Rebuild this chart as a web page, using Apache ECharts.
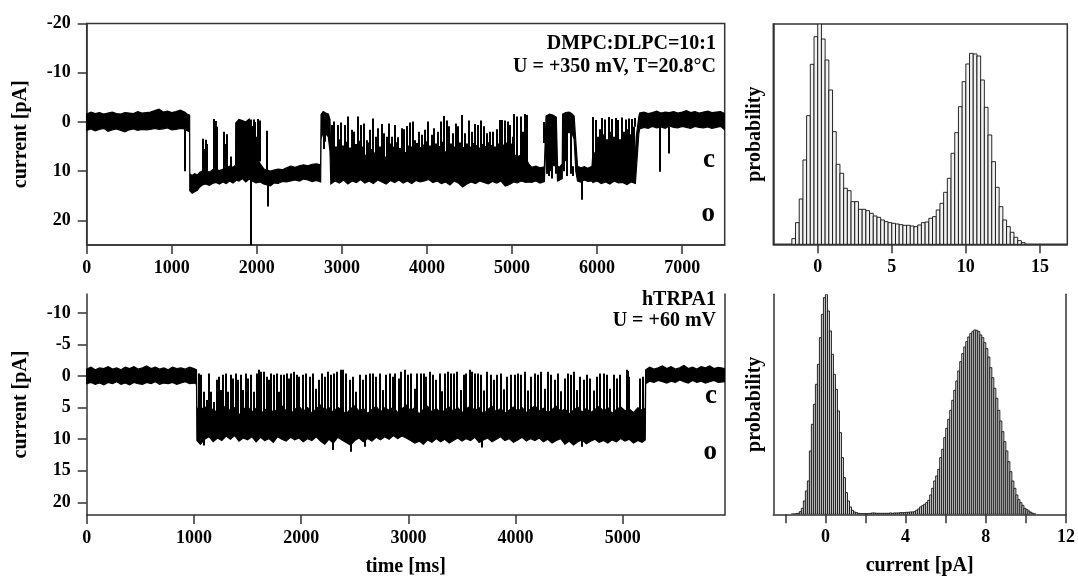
<!DOCTYPE html>
<html><head><meta charset="utf-8">
<script src="https://cdn.jsdelivr.net/npm/echarts@6/dist/echarts.min.js"></script>
<style>html,body{margin:0;padding:0;background:#fff}#c{width:1078px;height:578px}</style>
</head><body><div id="c"></div>
<script>
// ---------- tick labels ----------
const topTimeTicks = [0,1000,2000,3000,4000,5000,6000,7000];
const botTimeTicks = [0,1000,2000,3000,4000,5000];
const topCurrTicks = [-20,-10,0,10,20];
const botCurrTicks = [-10,-5,0,5,10,15,20];
const topHistTicks = [0,5,10,15];
const botHistTickMarks = [-2,0,2,4,6,8,10,12];
const botHistLabels = [0,4,8,12];

// ---------- top trace (DMPC:DLPC) : noise band envelope [ms, pA] ----------
const topBandT  = [0,50,100,150,200,250,300,350,400,450,500,550,600,650,700,750,800,850,900,950,1000,1050,1100,1150,1180,1210,
  1212,1240,1270,1300,1330,1360,1400,1440,1480,1520,1560,1600,1640,1680,1720,1750,
  1752,1790,1830,1870,1910,1940,
  1945,1990,2040,2080,2120,2160,2200,2250,2300,2350,2400,2450,2500,2550,2600,2650,2700,2750,
  2755,2780,2810,2840,2860,
  2870,2920,2970,3020,3070,3120,3170,3220,3270,3320,3370,3420,3470,3520,3570,3620,3670,3720,3770,3820,3870,3920,3970,4020,4070,4120,4170,4220,4270,4320,4370,4420,4470,4520,4570,4620,4670,4720,4770,4820,4870,4920,4970,5020,5060,5110,5160,5195,5230,5280,5330,5380,
  5400,5440,5480,5520,5535,5560,5590,
  5595,5630,5670,5700,5730,5750,
  5770,5810,5850,5890,5940,
  5950,6000,6050,6100,6150,6200,6250,6300,6350,6400,6450,6460,6490,
  6500,6550,6600,6650,6700,6750,6800,6850,6900,6950,7000,7050,7100,7150,7200,7250,7300,7350,7400,7450,7500];
const topBandLo = [-1.6,-2.0,-1.7,-1.9,-1.6,-1.8,-2.0,-1.7,-1.6,-1.9,-1.8,-1.7,-2.1,-1.8,-1.9,-2.0,-2.3,-2.6,-2.0,-2.2,-1.9,-2.1,-2.4,-2.0,-1.6,-1.4,
  10.6,10.9,10.5,10.8,10.2,10.0,9.8,10.2,9.7,9.5,9.9,9.6,9.4,9.0,9.2,8.8,
  0.2,-0.5,-0.3,0.0,-0.6,1.0,
  6.5,7.0,8.5,9.5,9.8,10.0,9.8,9.6,9.7,9.3,9.0,9.2,8.9,8.7,8.9,8.6,8.5,8.7,
  -1.5,-2.1,-1.8,-1.6,-0.5,
  7.0,6.5,7.3,6.3,6.9,7.5,6.4,7.1,6.7,7.6,6.1,7.0,6.5,7.3,6.3,6.8,7.4,6.5,6.0,7.1,6.6,6.3,7.0,7.5,6.7,6.4,7.2,6.1,6.9,6.5,7.3,6.4,7.0,6.7,6.2,7.1,6.6,7.4,6.8,6.3,7.0,6.4,6.9,6.5,7.1,6.7,7.3,8.5,9.2,9.0,9.3,9.1,
  -1.2,-1.6,-1.4,-1.0,9.0,9.2,8.5,
  -1.6,-1.9,-2.0,-1.7,-1.2,4.0,
  9.0,9.3,9.1,9.4,9.0,
  6.5,6.0,7.0,6.3,6.7,5.9,6.5,6.1,6.9,6.0,6.5,3.0,-1.0,
  -1.8,-2.0,-1.7,-1.9,-2.2,-1.8,-2.0,-1.9,-2.1,-1.8,-2.0,-2.3,-1.9,-2.1,-1.8,-2.0,-2.2,-1.9,-2.0,-2.1,-1.7];
const topBandHi = [1.7,1.4,1.8,1.5,1.3,1.9,1.6,1.4,1.7,2.0,1.6,1.4,1.7,1.5,1.6,1.5,1.3,1.5,1.4,1.2,1.6,1.5,1.3,1.4,1.8,2.0,
  14.0,14.5,14.2,13.9,13.2,12.8,12.6,12.9,12.5,12.3,12.6,12.2,12.5,12.0,12.4,12.0,
  11.8,12.0,11.5,12.2,11.6,12.0,
  12.0,12.4,12.2,12.6,12.8,13.0,12.4,12.5,12.1,12.2,12.0,11.8,12.0,11.6,11.8,12.1,11.9,12.2,
  3.5,2.0,2.4,3.0,6.0,
  12.6,12.0,12.4,11.8,12.6,12.0,12.3,11.7,12.4,12.0,12.5,11.8,12.2,12.6,11.9,12.3,11.8,12.4,12.0,12.5,11.9,12.2,12.0,11.7,12.3,12.0,12.5,12.2,12.8,12.0,12.4,13.2,12.6,12.2,12.5,12.0,12.3,12.6,12.1,12.4,12.0,13.0,12.7,12.2,12.4,12.0,12.3,12.2,12.3,12.0,12.4,12.1,
  3.5,2.5,3.0,4.0,12.0,11.8,11.5,
  2.5,1.8,2.2,2.0,3.5,10.0,
  12.0,12.2,11.8,12.1,12.0,
  12.3,12.0,12.5,12.2,12.6,12.0,12.4,12.3,12.7,12.2,12.5,10.0,2.5,
  1.4,1.1,1.3,0.9,1.2,1.0,1.3,0.8,1.1,1.2,0.9,1.1,1.3,0.9,1.1,1.2,1.0,1.3,1.1,0.9,1.6];

// ---------- top trace : fast transitions (spikes) ----------
const topSpikeT = [1152,1160,1370,1385,1400,1420,1495,1502,1510,1520,1528,1610,1625,1645,1655,1700,1928,
  1955,1968,1982,1995,2008,2020,2032,2040,2115,2127,2790,2805,
  2878,2893,2909,2930,2949,2968,2988,3010,3035,3055,3074,3095,3113,3145,3165,3184,3205,3223,3245,3262,3290,3310,3329,3348,3368,3395,3412,3427,3445,3466,3482,3497,3525,3538,3552,3568,3584,3605,3623,3643,3662,3682,3701,3717,3733,3760,3780,3799,3815,3831,3858,3880,3905,3920,3936,3956,3976,3995,4015,4035,4054,4070,4085,4105,4125,4145,4164,4185,4203,4230,4245,4258,4285,4309,4322,4336,4352,4368,4388,4407,4427,4446,4470,4493,4510,4524,4545,4564,4584,4603,4618,4634,4654,4673,4687,4701,4720,4740,4760,4779,4798,4818,4836,4854,4870,4885,4900,4916,4932,4948,4964,4979,4996,5014,
  5024,5063,5102,5130,5153,5180,5376,
  5410,5425,5440,5460,5475,5495,5512,
  5612,5640,5651,5690,5712,5819,
  5957,5984,6010,6030,6055,6075,6094,6120,6141,6160,6180,6200,6219,6235,6251,6275,6298,6318,6337,6355,6376,6395,6415,6430,6447,
  6741,6846,7035];
const topSpikeFrom = [1.5,1.0,10,10,10,10,10,10,10,10,10,10,10,10,10,10,-0.5,
  8,8,8,8,8,8,8,8,10,11,2,2,
  9,9,9,9,9,9,9,9,9,9,9,9,9,9,9,9,9,9,9,9,9,9,9,9,9,9,9,9,9,9,9,9,9,9,9,9,9,9,9,9,9,9,9,9,9,9,9,9,9,9,9,9,9,9,9,9,9,9,9,9,9,9,9,9,9,9,9,9,9,9,9,9,9,9,9,9,9,9,9,9,9,9,9,9,9,9,9,9,9,9,9,9,9,9,9,9,9,9,9,9,9,9,9,9,9,9,9,9,9,9,9,9,9,
  10,10,10,10,10,10,10,
  0,0,0,0,0,0,0,
  0,0,0,0,0,11,
  10,10,10,10,10,10,10,10,10,10,10,10,10,10,10,10,10,10,10,10,10,10,10,10,10,
  1,1,1];
const topSpikeTo = [10.0,7.0,3.4,5.5,3.6,4.5,-0.4,-0.6,0.5,-0.2,1.0,2.0,4.5,2.5,3.0,7.0,25.5,
  0.8,-0.5,0.0,3.0,-0.6,0.2,-0.3,2.0,1.8,17.2,5.5,4.0,
  0.6,4.5,-0.1,5.0,0.6,3.5,0.1,4.8,0.6,4.0,-1.1,5.2,1.6,2.0,4.5,-1.1,3.8,0.6,5.0,0.3,3.7,4.2,1.6,5.5,-0.7,3.0,4.6,1.3,5.0,0.4,4.0,2.3,3.0,5.2,0.3,4.4,3.0,5.0,0.6,4.1,3.1,5.3,1.3,4.5,1.5,0.8,4.8,0.1,5.0,-0.1,3.7,4.3,2.0,5.1,2.6,4.6,1.6,3.9,-0.1,4.8,2.6,5.2,1.3,4.4,2.0,4.9,-0.1,4.0,-1.2,-0.3,5.1,0.9,4.4,2.3,5.0,0.3,4.6,0.9,4.2,-1.4,5.1,2.3,4.4,-0.3,5.0,2.0,4.3,0.4,4.7,0.6,5.2,-0.3,4.5,0.9,4.9,2.3,4.1,2.0,4.7,2.0,5.0,1.5,4.4,-0.4,5.1,-0.4,4.6,-0.3,4.2,-0.1,5.0,0.6,4.4,3.0,
  -1.6,-1.1,-1.1,2.0,-1.6,-1.4,4.3,
  10.5,8.0,11.0,10.0,11.5,9.0,10.5,
  10.0,8.0,11.0,10.5,9.0,15.8,
  -1.0,-0.4,3.0,1.5,-0.8,2.5,-0.5,3.5,-1.0,2.0,-0.6,3.0,-0.8,2.5,-0.4,3.5,-0.9,2.0,-0.5,1.5,-0.7,2.5,-0.6,1.0,-0.8,
  10.1,6.4,5.0];

// ---------- bottom trace (hTRPA1) : noise band envelope [ms, pA] ----------
const botBandT = [0,40,80,120,160,200,240,280,320,360,400,440,480,520,560,600,640,680,720,760,800,840,880,920,960,1000,1024,
  1028,1060,1100,1140,1180,1220,1260,1300,1340,1380,1420,1460,1500,1540,1580,1620,1660,1700,1740,1780,1820,1860,1900,1940,1980,2020,2060,2100,2140,2180,2220,2260,2300,2340,2380,2420,2460,2500,2540,2580,2620,2660,2700,2740,2780,2820,2860,2900,2940,2980,3020,3060,3100,3140,3180,3220,3260,3300,3340,3380,3420,3460,3500,3540,3580,3620,3660,3700,3740,3780,3820,3860,3900,3940,3980,4020,4060,4100,4140,4180,4220,4260,4300,4340,4380,4420,4460,4500,4540,4580,4620,4660,4700,4740,4780,4820,4860,4900,4940,4980,5020,5060,5100,5140,5180,5209,
  5213,5250,5290,5330,5370,5410,5450,5490,5530,5570,5610,5650,5690,5730,5770,5810,5850,5890,5951];
const botBandLo = [-1.1,-1.4,-1.0,-1.3,-1.2,-1.5,-1.1,-1.3,-1.0,-1.4,-1.2,-1.5,-1.1,-1.3,-1.6,-1.2,-1.4,-1.1,-1.3,-1.0,-1.4,-1.2,-1.3,-1.1,-1.4,-1.2,-1.0,
  5.0,5.5,4.8,5.8,5.2,6.0,5.4,4.6,5.6,5.0,6.2,5.3,4.8,5.7,5.1,6.0,5.4,4.9,5.8,5.2,4.7,5.5,6.1,5.3,4.8,5.6,5.0,5.9,5.2,4.6,5.4,5.0,5.8,4.9,5.5,6.0,5.2,4.7,5.6,5.1,5.9,5.3,4.8,5.7,5.0,5.4,4.9,5.8,5.2,4.6,5.5,5.0,6.0,5.3,4.8,5.7,5.1,5.9,5.4,4.9,5.6,5.0,5.8,5.2,4.7,5.5,5.0,6.1,5.3,4.8,5.7,5.1,5.9,5.4,4.9,5.6,5.0,5.8,5.2,4.7,5.5,5.1,5.9,5.3,4.8,5.6,5.2,6.0,5.4,4.9,5.7,5.1,5.8,5.3,4.8,5.6,5.0,5.9,5.3,4.9,5.5,5.2,5.8,5.0,5.4,5.1,
  -1.0,-1.4,-1.1,-1.3,-1.6,-1.2,-1.5,-1.1,-1.3,-1.7,-1.2,-1.4,-1.1,-1.5,-1.3,-1.6,-1.2,-1.4,-1.2];
const botBandHi = [1.2,1.0,1.3,1.1,1.4,1.0,1.2,0.9,1.3,1.1,1.4,1.0,1.2,1.3,1.0,1.2,0.9,1.3,1.1,1.2,1.0,1.3,1.1,0.9,1.2,1.1,1.3,
  10.2,10.8,10.0,9.6,10.4,9.8,10.2,9.5,10.0,9.4,10.3,9.8,10.1,9.6,10.4,9.7,10.2,9.9,10.5,9.6,10.0,10.3,9.7,10.1,9.8,10.4,9.9,10.2,9.6,10.3,10.8,10.0,10.6,9.7,10.1,10.5,10.9,10.2,9.8,10.4,9.9,10.3,9.7,10.1,9.6,10.0,9.4,9.9,9.5,9.8,10.2,10.6,10.3,10.8,10.1,10.5,9.9,10.4,10.0,10.6,10.2,9.8,10.3,9.9,10.2,9.7,10.5,10.1,9.8,10.4,10.0,9.6,10.2,9.9,10.5,10.1,9.7,10.3,9.9,10.2,9.8,10.4,10.0,10.6,10.2,9.9,10.8,10.3,10.9,10.4,10.1,10.7,10.3,10.0,10.5,10.2,10.6,10.1,10.4,9.9,10.3,10.0,10.6,10.2,10.5,10.1,
  1.2,0.8,1.0,0.7,0.9,1.1,0.8,1.0,0.6,0.9,1.1,0.7,1.0,0.8,1.1,0.9,0.7,1.0,0.9];

// ---------- bottom trace : fast transitions (spikes) ----------
const botSpikeT = [1048,1070,1090,1094,1119,1141,1163,1188,1213,1234,1250,1275,1297,1318,1343,1368,1390,1412,1437,1461,1483,1505,1530,1561,1586,1611,1630,1654,1679,1701,1723,1748,1773,1794,1816,1841,1866,1888,1909,1934,1959,1981,
  2018,2049,2080,2111,2142,2164,2195,2220,2251,2276,2298,2307,2338,2369,2391,2422,2453,2469,2484,2515,2546,2577,2600,2609,2640,2671,2702,2733,2764,2795,2826,2857,2879,2910,2935,2966,2997,3028,3060,3084,3115,3147,3168,3199,3231,3262,3293,3315,3339,3371,3402,3427,3458,3489,3520,3542,3573,3594,3619,3650,3675,3688,3706,3737,3769,3800,3831,3862,3893,3924,3955,
  3992,4023,4054,4085,4116,4147,4178,4210,4241,4272,4303,4334,4365,4396,4427,4458,4489,4521,4542,4573,4605,4620,4636,4667,4698,4729,4760,4791,4822,4853,4884,4916,4947,4978,5040,5048,5062,5158,5186];
const botSpikeFrom = [7,7,8,7,7,7,7,7,7,7,7,7,7,7,7,7,7,7,7,7,7,7,7,7,7,7,7,7,7,7,7,7,7,7,7,7,7,7,7,7,7,7,
  7,7,7,7,7,7,7,7,7,7,8,7,7,7,7,7,7,8,7,7,7,7,8,7,7,7,7,7,7,7,7,7,7,7,7,7,7,7,7,7,7,7,7,7,7,7,7,7,7,7,7,7,7,7,7,7,7,7,7,7,7,8,7,7,7,7,7,7,7,7,7,
  7,7,7,7,7,7,7,7,7,7,7,7,7,7,7,7,7,7,7,7,7,8,7,7,7,7,7,7,7,7,7,7,7,7,7,7,7,7,7];
const botSpikeTo = [-0.4,-0.2,11.0,2.5,3.8,-0.4,2.5,4.1,0.6,0.1,2.2,-0.2,-0.4,2.5,-0.2,0.4,-0.4,0.6,-0.2,2.2,-0.4,0.4,-0.2,2.5,-0.4,-1.0,-0.7,-0.7,0.1,0.6,-0.4,-0.2,-0.4,2.5,-0.2,-0.2,-0.4,0.4,-0.4,-0.7,-0.2,0.1,
  -0.2,-0.4,0.1,-0.4,2.0,0.6,-0.4,0.1,-0.7,-0.2,11.7,-0.4,-0.7,-1.0,-1.0,-0.4,0.6,12.0,0.1,2.5,-0.2,0.6,11.2,-0.2,-0.4,-0.4,0.1,-0.4,2.2,-0.2,-0.4,0.1,-0.4,0.4,-0.7,-1.0,-0.2,-0.4,2.0,-0.4,-0.4,-0.4,0.1,-0.7,-0.2,0.6,-0.4,2.4,-0.4,-0.7,-0.4,-0.4,-0.7,2.2,-0.2,-0.4,-1.0,-0.7,-0.4,-0.4,-0.2,11.3,2.3,-0.7,-0.2,0.6,-0.2,-0.4,2.1,0.1,-0.2,
  -0.2,-0.4,-0.2,-0.7,2.3,0.1,-0.4,-0.2,-0.7,2.0,-0.7,-0.2,0.6,-0.4,2.4,0.4,-0.4,-0.2,-0.7,2.2,0.1,11.2,0.6,-0.2,0.4,2.3,0.1,-0.4,-0.4,-0.2,2.0,-0.2,0.4,-0.2,-1.0,-0.8,0.1,0.4,0.1];

// ---------- amplitude histograms (bar heights, arbitrary units) ----------
const topHistStart = -1.75, topHistWidth = 0.25;
const topHistCounts = [17,65,136,253,386,540,623,661,616,553,463,338,240,213,168,161,128,128,105,105,101,93,85,81,73,68,65,63,61,59,57,57,55,53,58,65,67,78,83,103,123,156,198,273,335,413,488,541,573,571,565,493,411,328,248,171,113,73,53,36,21,11,5];
const botHistStart = -1.7, botHistWidth = 0.1;
const botHistCounts = [1,1,2,3,8,18,40,70,100,190,270,330,390,450,530,600,650,660,610,550,480,420,375,310,245,170,110,65,40,22,12,7,5,3,2,2,
  2,2,2,3,4,4,3,3,3,3,3,3,3,4,3,4,4,4,5,5,5,6,6,7,7,
  8,12,16,22,26,30,35,42,58,78,100,115,135,170,195,230,258,285,312,342,372,400,430,458,482,502,518,532,542,548,553,552,548,538,530,515,497,472,440,410,378,348,312,280,248,218,190,158,128,100,78,58,44,35,27,18,14,10,6,3,1];

// ---------- rendering ----------
const FONT = '"Liberation Serif","DejaVu Serif",serif';
const AX = '#333';
const lbl = {color:'#000', fontFamily:FONT, fontWeight:'bold', fontSize:18, formatter:(v)=>String(v)};

function bandItem(T, LO, HI){
  return function(params, api){
    const pts = [];
    for (let i=0;i<T.length;i++) pts.push(api.coord([T[i], LO[i]]));
    for (let i=T.length-1;i>=0;i--) pts.push(api.coord([T[i], HI[i]]));
    return {type:'polygon', shape:{points:pts}, style:{fill:'#000', stroke:'#000', lineWidth:1.2}};
  };
}
function spikeItem(params, api){
  const a = api.coord([api.value(0), api.value(1)]);
  const b = api.coord([api.value(0), api.value(2)]);
  const x = Math.round(a[0]);
  return {type:'line', shape:{x1:x,y1:a[1],x2:x,y2:b[1]}, style:{stroke:'#000', lineWidth:2}};
}
function histItem(fill){
  return function(params, api){
    const p0 = api.coord([api.value(0), api.value(2)]);
    const p1 = api.coord([api.value(1), 0]);
    return {type:'rect', shape:{x:p0[0], y:p0[1], width:p1[0]-p0[0], height:p1[1]-p0[1]},
      style:{fill:fill, stroke:'#111', lineWidth:0.9}};
  };
}
const spikes = (T,F,TO) => T.map((t,i)=>[t, F[i], TO[i]]);
const hist = (s,w,C) => C.map((c,i)=>[s+i*w, s+(i+1)*w, c]);

function xAx(gi, min, max, tickVals, labelVals, showLabels){
  return {type:'value', gridIndex:gi, min:min, max:max,
    axisLine:{show:true, onZero:false, lineStyle:{color:AX, width:1.5}},
    axisTick:{show:true, length:9, customValues:tickVals, lineStyle:{color:AX, width:1.5}},
    axisLabel:Object.assign({show:showLabels, margin:14, customValues:labelVals}, lbl),
    splitLine:{show:false}};
}
function yAx(gi, min, max, inverse, ticks, opts){
  return Object.assign({type:'value', gridIndex:gi, min:min, max:max, inverse:inverse,
    axisLine:{show:true, onZero:false, lineStyle:{color:AX, width:1.5}},
    axisTick:{show:!!ticks, length:9, customValues:ticks||undefined, lineStyle:{color:AX, width:1.5}},
    axisLabel:Object.assign({show:!!ticks, margin:16, customValues:ticks||undefined}, lbl),
    splitLine:{show:false}}, opts||{});
}
function rightLine(gi){
  return {type:'value', gridIndex:gi, position:'right', min:0, max:1,
    axisLine:{show:true, onZero:false, lineStyle:{color:AX, width:1.5}},
    axisTick:{show:false}, axisLabel:{show:false}, splitLine:{show:false}};
}
const nameStyle = {color:'#000', fontFamily:FONT, fontWeight:'bold', fontSize:20};

const chart = echarts.init(document.getElementById('c'), null, {renderer:'canvas'});
chart.setOption({
  animation:false,
  backgroundColor:'#fff',
  grid:[
    {left:86.7, top:23.5, width:638, height:221.5, show:true, borderColor:AX, borderWidth:1.5},
    {left:773.3, top:24, width:294, height:220.3, show:true, borderColor:AX, borderWidth:1.5},
    {left:86.7, top:294, width:638, height:221},
    {left:773.3, top:294.3, width:294, height:220}
  ],
  xAxis:[
    xAx(0, 0, 7500, topTimeTicks, topTimeTicks, true),
    xAx(1, -3, 16.85, topHistTicks, topHistTicks, true),
    Object.assign(xAx(2, 0, 5950, botTimeTicks, botTimeTicks, true),
      {name:'time [ms]', nameLocation:'middle', nameGap:42, nameTextStyle:nameStyle}),
    Object.assign(xAx(3, -2.6, 12, botHistTickMarks, botHistLabels, true),
      {name:'current [pA]', nameLocation:'middle', nameGap:42, nameTextStyle:nameStyle})
  ],
  yAxis:[
    yAx(0, -20, 25, true, topCurrTicks, {name:'current [pA]', nameLocation:'middle', nameGap:56, nameRotate:90, nameTextStyle:nameStyle}),
    yAx(1, 0, 661, false, null, {name:'probability', nameLocation:'middle', nameGap:8, nameRotate:90, nameTextStyle:nameStyle}),
    yAx(2, -13, 22, true, botCurrTicks, {name:'current [pA]', nameLocation:'middle', nameGap:56, nameRotate:90, nameTextStyle:nameStyle}),
    yAx(3, 0, 660, false, null, {name:'probability', nameLocation:'middle', nameGap:8, nameRotate:90, nameTextStyle:nameStyle}),
    rightLine(2),
    rightLine(3)
  ],
  series:[
    {type:'custom', xAxisIndex:0, yAxisIndex:0, clip:true, silent:true, data:[[0,0]], renderItem:bandItem(topBandT, topBandLo, topBandHi)},
    {type:'custom', xAxisIndex:0, yAxisIndex:0, clip:true, silent:true, encode:{x:0, y:[1,2]},
      data:spikes(topSpikeT, topSpikeFrom, topSpikeTo), renderItem:spikeItem},
    {type:'custom', xAxisIndex:2, yAxisIndex:2, clip:true, silent:true, data:[[0,0]], renderItem:bandItem(botBandT, botBandLo, botBandHi)},
    {type:'custom', xAxisIndex:2, yAxisIndex:2, clip:true, silent:true, encode:{x:0, y:[1,2]},
      data:spikes(botSpikeT, botSpikeFrom, botSpikeTo), renderItem:spikeItem},
    {type:'custom', xAxisIndex:1, yAxisIndex:1, clip:true, silent:true, encode:{x:[0,1], y:2},
      data:hist(topHistStart, topHistWidth, topHistCounts), renderItem:histItem('#f2f2f2')},
    {type:'custom', xAxisIndex:3, yAxisIndex:3, clip:true, silent:true, encode:{x:[0,1], y:2},
      data:hist(botHistStart, botHistWidth, botHistCounts), renderItem:histItem('#d8d8d8')}
  ],
  graphic:[
    {type:'text', x:716, y:44, style:{text:'DMPC:DLPC=10:1', align:'right', verticalAlign:'middle', font:'bold 20px '+FONT, fill:'#000'}},
    {type:'text', x:716, y:67, style:{text:'U = +350 mV, T=20.8°C', align:'right', verticalAlign:'middle', font:'bold 20px '+FONT, fill:'#000'}},
    {type:'text', x:715, y:160, style:{text:'c', align:'right', verticalAlign:'middle', font:'bold 27px '+FONT, fill:'#000'}},
    {type:'text', x:715, y:214, style:{text:'o', align:'right', verticalAlign:'middle', font:'bold 27px '+FONT, fill:'#000'}},
    {type:'text', x:716, y:300, style:{text:'hTRPA1', align:'right', verticalAlign:'middle', font:'bold 20px '+FONT, fill:'#000'}},
    {type:'text', x:716, y:321, style:{text:'U = +60 mV', align:'right', verticalAlign:'middle', font:'bold 20px '+FONT, fill:'#000'}},
    {type:'text', x:717, y:396, style:{text:'c', align:'right', verticalAlign:'middle', font:'bold 27px '+FONT, fill:'#000'}},
    {type:'text', x:717, y:452, style:{text:'o', align:'right', verticalAlign:'middle', font:'bold 27px '+FONT, fill:'#000'}}
  ]
});
</script></body></html>
